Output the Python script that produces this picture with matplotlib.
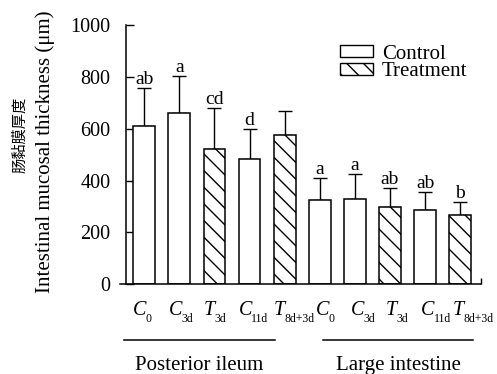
import matplotlib
matplotlib.use('Agg')
import matplotlib.pyplot as plt
import matplotlib.transforms as mtransforms
from matplotlib.patches import Patch
import numpy as np

plt.rcParams['font.family'] = ['Liberation Serif', 'Noto Sans CJK SC']
plt.rcParams['hatch.linewidth'] = 1.0

# data
tick_main = ['C', 'C', 'T', 'C', 'T'] * 2
tick_sub = ['0', '3d', '3d', '11d', '8d+3d'] * 2
means = [610, 660, 522, 483, 575, 324, 329, 298, 287, 268]
errors = [149, 144, 157, 117, 95, 86, 96, 74, 69, 50]
letters = ['ab', 'a', 'cd', 'd', '', 'a', 'a', 'ab', 'ab', 'b']
is_treatment = [False, False, True, False, True, False, False, True, False, True]
groups = ['Posterior ileum', 'Large intestine']
group_spans = [(-0.58, 3.73), (5.09, 9.37)]

fig = plt.figure(figsize=(4.97, 3.74), dpi=100)
ax = fig.add_axes([0.2414, 0.2398, 0.7270, 0.6932])

bar_w = 0.62
hatch = '\\\\'
x = np.arange(len(means))
for i in range(len(means)):
    ax.bar(x[i], means[i], width=bar_w, color='white', edgecolor='black',
           linewidth=1.1, hatch=hatch if is_treatment[i] else None, zorder=2)
ax.errorbar(x, means, yerr=[np.zeros(len(errors)), errors], fmt='none',
            ecolor='black', elinewidth=1.0, capsize=5, capthick=1.0, zorder=1)

for i in range(len(means)):
    if letters[i]:
        ax.annotate(letters[i], (x[i], means[i] + errors[i]), xytext=(0, 0),
                    textcoords='offset points', ha='center', va='bottom', fontsize=14)

ax.set_xlim(-0.69, 9.6)
ax.set_ylim(0, 1000)
ax.set_yticks(np.arange(0, 1001, 200))
ax.tick_params(axis='y', direction='in', length=6, width=1.0, labelsize=14.5, pad=11)
ax.set_xticks([])
ax.set_xticks([9.6], minor=True)
ax.tick_params(axis='x', which='minor', direction='in', length=4, width=1.0, labelbottom=False)

for s in ['top', 'right']:
    ax.spines[s].set_visible(False)
ax.spines['left'].set_position(('axes', 0.016))
ax.spines['left'].set_linewidth(1.1)
ax.spines['bottom'].set_linewidth(1.1)

trans = mtransforms.blended_transform_factory(ax.transData, ax.transAxes)

# x labels: italic letter with upright subscript, starting near the bar's left edge
# (second group is nudged right a little, as in the original)
nudges = [0, 0, 0, 0, 0, 0.2, 0.2, 0.2, 0.2, 0.1]
for i in range(len(means)):
    main = ax.text(x[i] - bar_w / 2 + nudges[i], -0.118, tick_main[i], transform=trans,
                   style='italic', fontsize=14.5, ha='left', va='baseline')
    ax.annotate(tick_sub[i], xy=(1, -0.145), xycoords=(main, ax.transAxes),
                xytext=(-0.5, 0), textcoords='offset points', fontsize=8.5,
                ha='left', va='baseline')

# group labels below the x axis
for name, (a, b) in zip(groups, group_spans):
    ax.plot([a, b], [-0.214, -0.214], color='black', lw=1.1, transform=trans, clip_on=False)
    ax.text((a + b) / 2, -0.332, name, transform=trans, ha='center', va='baseline', fontsize=15)

handles = [Patch(facecolor='white', edgecolor='black', linewidth=1.0, label='Control'),
           Patch(facecolor='white', edgecolor='black', linewidth=1.0, hatch=hatch, label='Treatment')]
ax.legend(handles=handles, loc='upper left', bbox_to_anchor=(0.609, 0.925), frameon=False,
          fontsize=15, handlelength=1.6, handleheight=0.55, handletextpad=0.4,
          labelspacing=-0.05, borderpad=0, borderaxespad=0)

fig.text(0.040, 0.639, '肠黏膜厚度', rotation=90, ha='center', va='center', fontsize=11)
fig.text(0.091, 0.595, 'Intestinal mucosal thickness (μm)', rotation=90,
         ha='center', va='center', fontsize=15)

plt.savefig('out.png', dpi=100)
